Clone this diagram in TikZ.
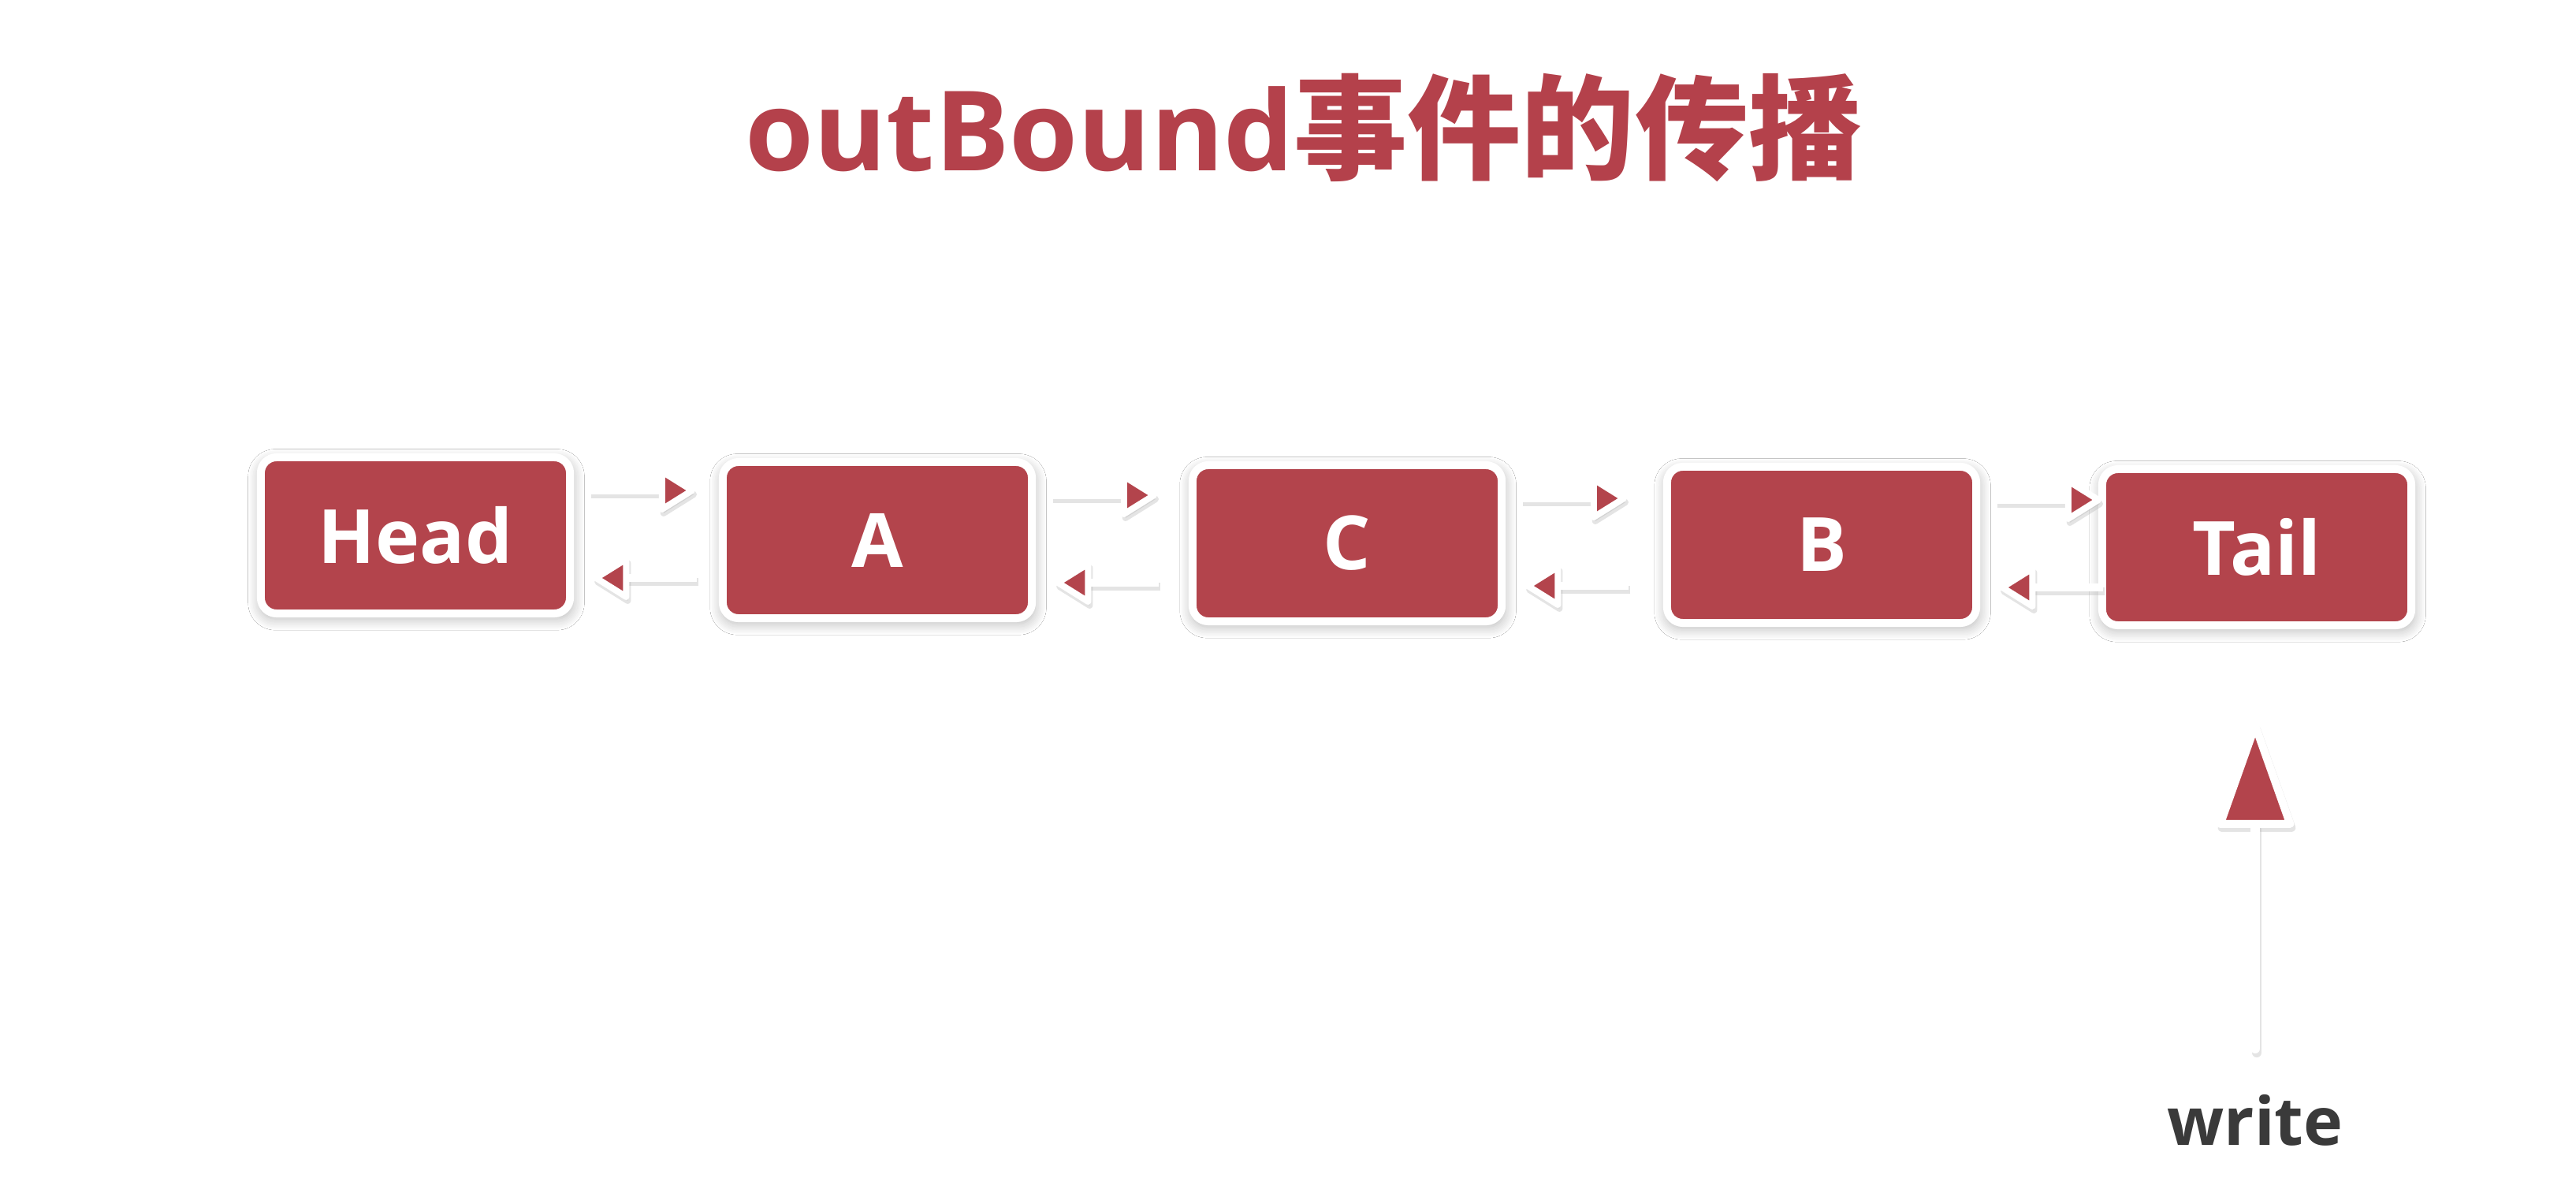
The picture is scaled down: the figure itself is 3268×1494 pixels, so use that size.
\documentclass[tikz,border=0pt]{standalone}
\usepackage{fontspec}
\newfontfamily\cjk{Noto Sans CJK SC}
\newfontfamily\latin{Open Sans}
\usetikzlibrary{arrows.meta,calc,shadows,shadows.blur}
\definecolor{boxred}{HTML}{B3444C}
\definecolor{titlered}{HTML}{B4414B}
\definecolor{writegray}{HTML}{3A3A3A}
\tikzset{
  boxnode/.style={draw=white, line width=0.1cm, fill=boxred, rounded corners=0.2cm,
    minimum width=3.92cm, minimum height=1.98cm, inner sep=0pt, text=white,
    font=\latin\bfseries\fontsize{27}{30}\selectfont,
    blur shadow={shadow xshift=0.3pt, shadow yshift=-1.5pt, shadow blur radius=4pt,
      shadow blur steps=8, shadow opacity=28, shadow scale=1.015}},
  conn/.style={draw=white, line width=0.1cm,
    -{Triangle[length=0.5cm, width=0.6cm, line width=0.08cm, round, fill=boxred]}},
  connshadow/.style={draw=black!30, line width=0.1cm, opacity=0.35,
    transform canvas={shift={(0.02cm,-0.05cm)}},
    -{Triangle[length=0.5cm, width=0.6cm, line width=0.08cm, round, fill=black!30]}},
  writeconn/.style={draw=white, line width=0.12cm, line cap=round,
    -{Triangle[length=1.45cm, width=1.0cm, line width=0.1cm, round, fill=boxred]}},
  writeshadow/.style={draw=black!30, line width=0.12cm, line cap=round, opacity=0.35,
    transform canvas={shift={(0.02cm,-0.05cm)}},
    -{Triangle[length=1.45cm, width=1.0cm, line width=0.1cm, round, fill=black!30]}},
  titletext/.style={text=titlered, inner sep=0pt},
  writetext/.style={text=writegray, font=\latin\bfseries\fontsize{24}{28}\selectfont}
}
\begin{document}
\begin{tikzpicture}[x=0.01cm, y=-0.01cm]
\useasboundingbox[fill=white] (0,0) rectangle (3268,1494);

\node[titletext] (title) at (1654,162)
  {{\latin\bfseries\fontsize{40}{45}\selectfont outBound}{\cjk\bfseries\fontsize{41}{45}\selectfont 事件的传播}};

\node[boxnode] (Head) at (527,679) {Head};
\node[boxnode] (A) at (1113,685) {A};
\node[boxnode] (C) at (1709,689) {C};
\node[boxnode] (B) at (2311,691) {B};
\node[boxnode] (Tail) at (2863,694) {Tail};

\foreach \l/\r in {Head/A, A/C, C/B, B/Tail}{
  \draw[connshadow] ($(\l.east)+(20,-57)$) -- ($(\l.east)+(154,-57)$);
  \draw[connshadow] ($(\l.east)+(156,54)$) -- ($(\l.east)+(24,54)$);
  \draw[conn] ($(\l.east)+(20,-57)$) -- ($(\l.east)+(154,-57)$);
  \draw[conn] ($(\l.east)+(156,54)$) -- ($(\l.east)+(24,54)$);
}

\node[writetext] (write) at (2861,1421) {write};
\coordinate (wbot) at (2861,1330);
\draw[writeshadow, shorten >=1.17cm] (wbot) -- (wbot |- Tail.south);
\draw[writeconn, shorten >=1.17cm] (wbot) -- (wbot |- Tail.south);
\end{tikzpicture}
\end{document}
